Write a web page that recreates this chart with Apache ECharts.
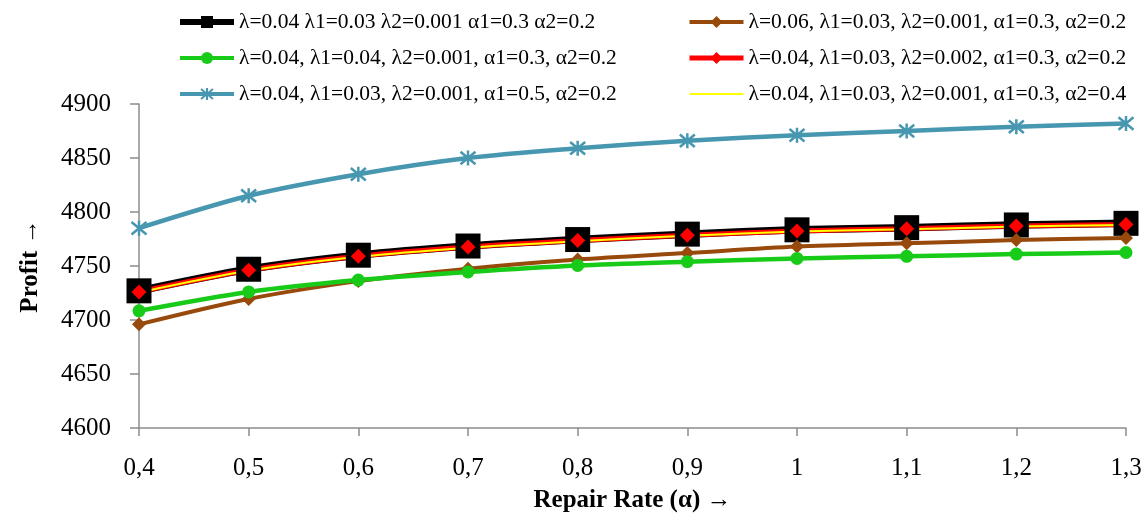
<!DOCTYPE html>
<html>
<head>
<meta charset="utf-8">
<script src="https://cdn.jsdelivr.net/npm/echarts@6/dist/echarts.min.js"></script>
<style>
  html, body { margin: 0; padding: 0; background: #fff; }
  #chart { width: 1147px; height: 518px; }
</style>
</head>
<body>
<div id="chart"></div>
<script>
// repair rate categories
const categories = ['0,4', '0,5', '0,6', '0,7', '0,8', '0,9', '1', '1,1', '1,2', '1,3']

// profit values
const base = [4727, 4747, 4760, 4768.5, 4774.5, 4779.5, 4783.5, 4785.5, 4788, 4789.5]
const lambda06 = [4696, 4719.5, 4736, 4747.5, 4756, 4762, 4768, 4771, 4774, 4776]
const lambda1_04 = [4708.5, 4726, 4737, 4744.5, 4750.5, 4754, 4757, 4759, 4761, 4762.5]
const lambda2_002 = [4726, 4746, 4759, 4767.5, 4773.5, 4778.5, 4782.5, 4784.5, 4787, 4788.5]
const alpha1_05 = [4785, 4815, 4835, 4850, 4859, 4866, 4871, 4875, 4879, 4882]
const alpha2_04 = [4725.5, 4745.5, 4758.5, 4767, 4773, 4778, 4782, 4784, 4786.5, 4788]

const yTicks = { min: 4600, max: 4900, interval: 50 }

const names = [
  'λ=0.04 λ1=0.03 λ2=0.001 α1=0.3 α2=0.2',
  'λ=0.06, λ1=0.03, λ2=0.001, α1=0.3, α2=0.2',
  'λ=0.04, λ1=0.04, λ2=0.001, α1=0.3, α2=0.2',
  'λ=0.04, λ1=0.03, λ2=0.002, α1=0.3, α2=0.2',
  'λ=0.04, λ1=0.03, λ2=0.001, α1=0.5, α2=0.2',
  'λ=0.04, λ1=0.03, λ2=0.001, α1=0.3, α2=0.4'
]

const font = '"Liberation Serif", serif'
const star = 'path://M0,0L10,10M10,0L0,10M5,-1L5,11'

const chart = echarts.init(document.getElementById('chart'))

function line(name, data, color, width, symbol, size, extra) {
  return Object.assign({
    name: name,
    type: 'line',
    data: data,
    smooth: 0.3,
    symbol: symbol,
    symbolSize: size,
    showSymbol: symbol !== 'none',
    lineStyle: { color: color, width: width },
    itemStyle: { color: color },
    animation: false
  }, extra || {})
}

const legendText = { fontFamily: font, fontSize: 21.5, color: '#000' }
const legendBase = {
  top: 6, orient: 'vertical', itemGap: 14,
  itemWidth: 54, itemHeight: 15,
  textStyle: legendText
}

chart.setOption({
  grid: { left: 139, right: 21, top: 104, bottom: 89 },
  legend: [
    Object.assign({
      left: 172,
      data: [
        { name: names[0], lineStyle: { width: 6 } },
        { name: names[2], lineStyle: { width: 4 } },
        { name: names[4], lineStyle: { width: 4 } }
      ]
    }, legendBase),
    Object.assign({
      left: 682,
      data: [
        { name: names[1], lineStyle: { width: 4 } },
        { name: names[3], lineStyle: { width: 5 } },
        { name: names[5], lineStyle: { width: 2 }, itemStyle: { opacity: 0 } }
      ]
    }, legendBase)
  ],
  xAxis: {
    type: 'category',
    data: categories,
    boundaryGap: false,
    name: 'Repair Rate (α) →',
    nameLocation: 'middle',
    nameGap: 60,
    nameTextStyle: { fontFamily: font, fontSize: 25, fontWeight: 'bold', color: '#000' },
    axisLine: { lineStyle: { color: '#8c8c8c', width: 1.5 } },
    axisTick: { alignWithLabel: true, length: 8, lineStyle: { color: '#8c8c8c', width: 1.5 } },
    axisLabel: { fontFamily: font, fontSize: 25, color: '#000', margin: 28 },
    splitLine: { show: false }
  },
  yAxis: {
    type: 'value',
    min: yTicks.min,
    max: yTicks.max,
    interval: yTicks.interval,
    name: 'Profit →',
    nameLocation: 'middle',
    nameRotate: 90,
    nameGap: 96,
    nameTextStyle: { fontFamily: font, fontSize: 25, fontWeight: 'bold', color: '#000' },
    axisLine: { show: true, lineStyle: { color: '#8c8c8c', width: 1.5 } },
    axisTick: { show: true, length: 9, lineStyle: { color: '#8c8c8c', width: 1.5 } },
    axisLabel: { fontFamily: font, fontSize: 25, color: '#000', margin: 28, formatter: v => String(v) },
    splitLine: { show: false }
  },
  series: [
    line(names[0], base, '#000000', 7.5, 'rect', 25),
    line(names[1], lambda06, '#974A0B', 4, 'diamond', 14),
    line(names[2], lambda1_04, '#18CB18', 4.5, 'circle', 13),
    line(names[3], lambda2_002, '#FF0000', 5, 'diamond', 15),
    line(names[4], alpha1_05, '#4797B0', 4.5, star, 15, {
      itemStyle: { color: 'rgba(0,0,0,0)', borderColor: '#4797B0', borderWidth: 2.5 }
    }),
    line(names[5], alpha2_04, '#FFFF00', 2, 'none', 0)
  ]
})
</script>
</body>
</html>
